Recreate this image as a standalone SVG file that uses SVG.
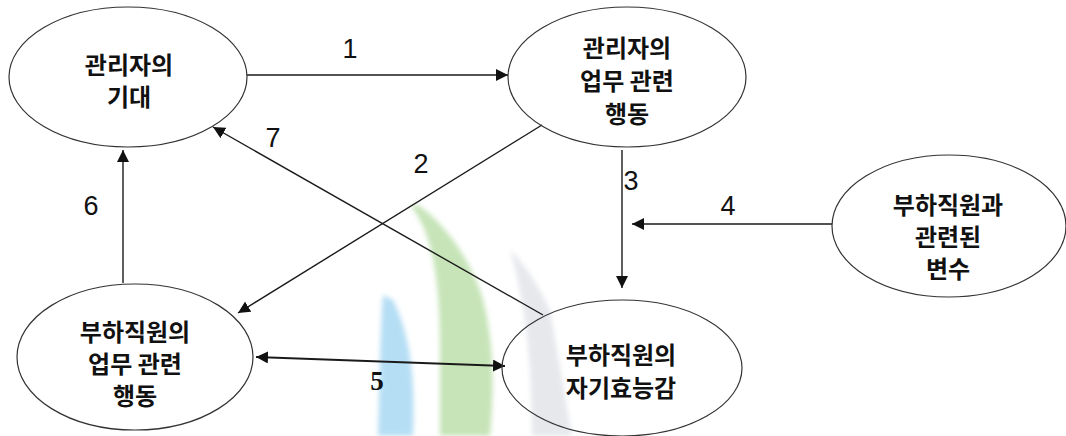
<svg xmlns="http://www.w3.org/2000/svg" width="1066" height="436" viewBox="0 0 1066 436">
  <style>
    .node ellipse { fill: none; stroke: #333; stroke-width: 1.2; }
    .node text { font-family: "Noto Sans CJK KR", "Noto Sans", sans-serif; font-size: 24px; font-weight: bold; fill: #111; text-anchor: middle; }
    .conn line { stroke: #1a1a1a; stroke-width: 1.4; fill: none; }
    .lbl { font-family: "Liberation Sans", Arial, sans-serif; font-size: 27px; fill: #111; text-anchor: middle; }
  </style>
  <defs>
    <marker id="arr" viewBox="0 0 12 12" markerWidth="12" markerHeight="12" refX="12" refY="6" orient="auto-start-reverse" markerUnits="userSpaceOnUse">
      <path d="M0,0 L12,6 L0,12 z" fill="#111"/>
    </marker>
    <filter id="blur" x="-10%" y="-10%" width="120%" height="120%">
      <feGaussianBlur stdDeviation="2.5"/>
    </filter>
  </defs>
  <rect width="1066" height="436" fill="#fff"/>

  <g id="watermark" filter="url(#blur)">
    <path d="M410 205 C432 230 440 280 440 347 L440 436 L490 436 C495 380 493 330 480 290 C465 250 440 220 418 205 Z" fill="#c6e4b8"/>
    <path d="M383 295 C380 330 380 380 378 436 L413 436 C415 390 413 340 393 300 Z" fill="#b5def4"/>
    <path d="M510 250 C530 270 540 290 550 310 L572 436 L532 436 C532 360 525 300 510 250 Z" fill="#e6e8ec"/>
  </g>

  <g id="connectors" class="conn">
    <line x1="247" y1="75" x2="508" y2="75" marker-end="url(#arr)"/>
    <line x1="542" y1="125" x2="238" y2="313" marker-end="url(#arr)"/>
    <line x1="622" y1="150" x2="622" y2="288" marker-end="url(#arr)"/>
    <line x1="832" y1="224" x2="632" y2="224" marker-end="url(#arr)"/>
    <line x1="256" y1="357" x2="505" y2="366" marker-start="url(#arr)" marker-end="url(#arr)" style="stroke-width:2"/>
    <line x1="123" y1="283" x2="123" y2="150" marker-end="url(#arr)"/>
    <line x1="543" y1="315" x2="213" y2="127" marker-end="url(#arr)"/>
    <text class="lbl" x="350" y="58">1</text>
    <text class="lbl" x="421" y="173">2</text>
    <text class="lbl" x="631" y="190">3</text>
    <text class="lbl" x="728" y="215">4</text>
    <text class="lbl" x="377" y="390" style="font-family:'Liberation Serif',serif;font-weight:bold">5</text>
    <text class="lbl" x="91" y="215">6</text>
    <text class="lbl" x="273" y="147">7</text>
  </g>

  <g id="n1" class="node">
    <ellipse cx="128" cy="77" rx="119" ry="70"/>
    <text x="129" y="74">관리자의<tspan x="129" dy="32">기대</tspan></text>
  </g>
  <g id="n2" class="node">
    <ellipse cx="627" cy="77" rx="119" ry="70"/>
    <text x="627" y="57">관리자의<tspan x="627" dy="33">업무 관련</tspan><tspan x="627" dy="33">행동</tspan></text>
  </g>
  <g id="n3" class="node">
    <ellipse cx="949" cy="226" rx="117" ry="71"/>
    <text x="948" y="214">부하직원과<tspan x="948" dy="32">관련된</tspan><tspan x="948" dy="32">변수</tspan></text>
  </g>
  <g id="n4" class="node">
    <ellipse cx="135" cy="357" rx="118" ry="73"/>
    <text x="135" y="341">부하직원의<tspan x="135" dy="32">업무 관련</tspan><tspan x="135" dy="32">행동</tspan></text>
  </g>
  <g id="n5" class="node">
    <ellipse cx="622" cy="368" rx="120" ry="68"/>
    <text x="621" y="364">부하직원의<tspan x="621" dy="33">자기효능감</tspan></text>
  </g>
</svg>
